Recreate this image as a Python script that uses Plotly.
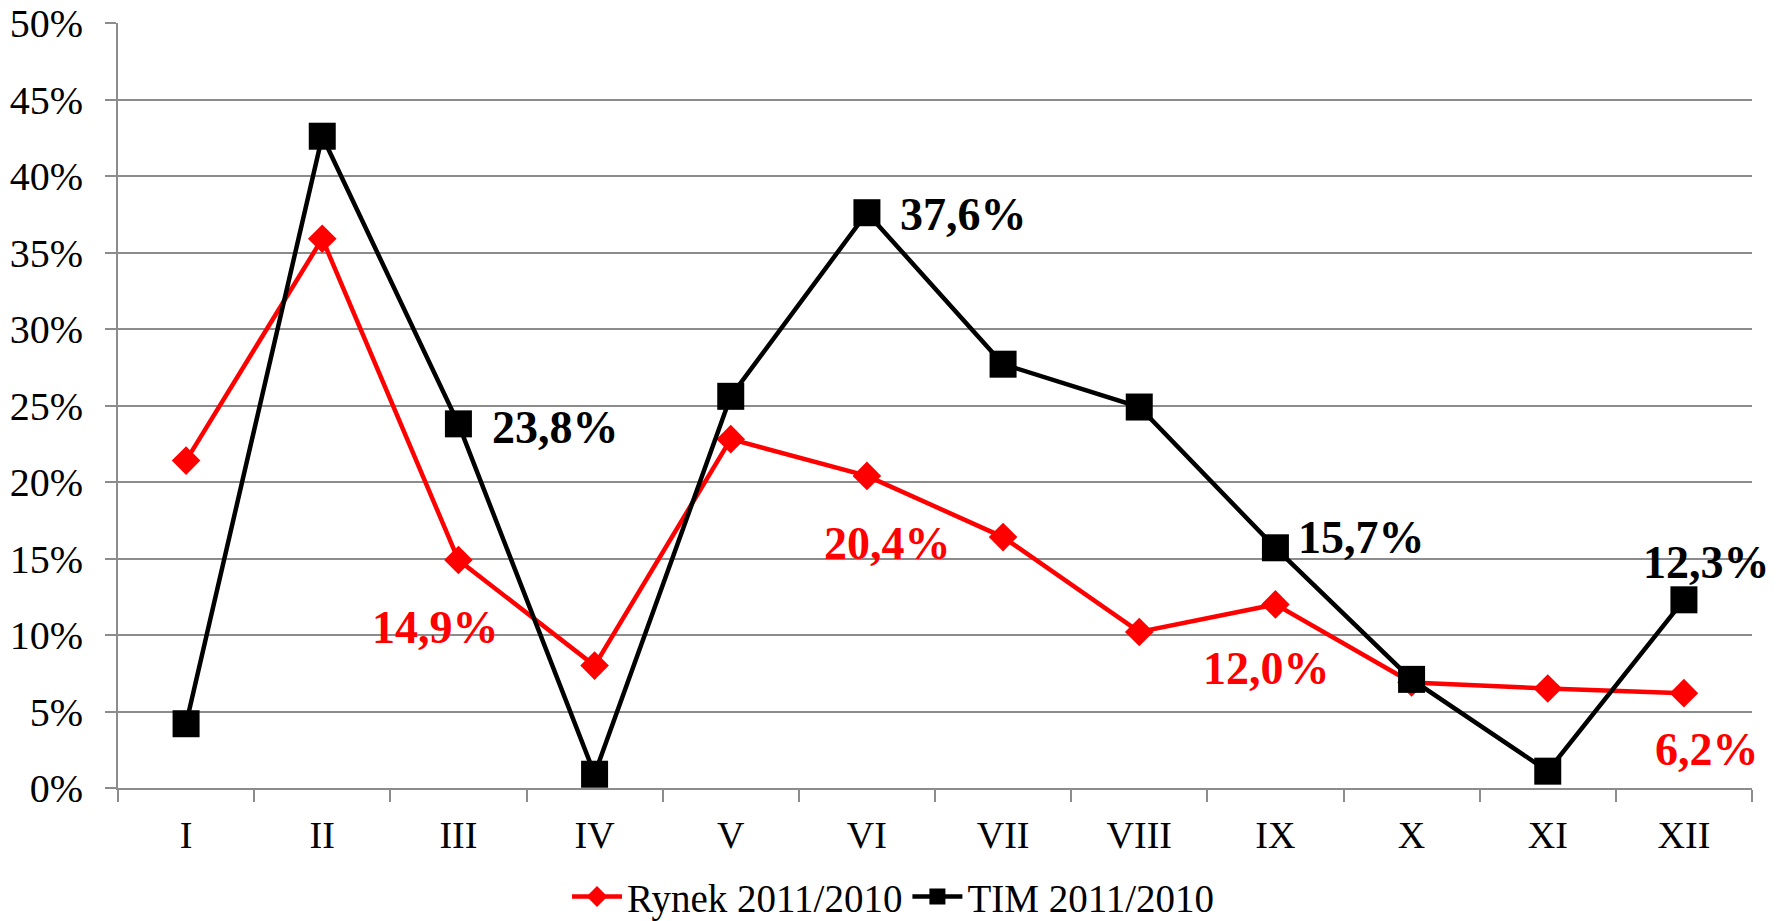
import plotly.graph_objects as go

months = ["I", "II", "III", "IV", "V", "VI", "VII", "VIII", "IX", "X", "XI", "XII"]
rynek = [0.214, 0.359, 0.149, 0.080, 0.228, 0.204, 0.164, 0.102, 0.120, 0.069, 0.065, 0.062]
tim = [0.042, 0.426, 0.238, 0.009, 0.256, 0.376, 0.277, 0.249, 0.157, 0.071, 0.011, 0.123]

# labelled points: month index -> text
rynek_labels = {2: "14,9%", 5: "20,4%", 8: "12,0%", 11: "6,2%"}
tim_labels = {2: "23,8%", 5: "37,6%", 8: "15,7%", 11: "12,3%"}

# label offsets in pixels (style only)
rynek_off = {2: (-23, -67), 5: (21, -68), 8: (-9, -64), 11: (23, -56)}
tim_off = {2: ("left", 32, -4), 5: ("left", 31, -2), 8: ("left", 21, 10), 11: ("center", 23, 37)}

FONT = "Liberation Serif"
GRID = "#8c8c8c"

fig = go.Figure()
fig.add_trace(go.Scatter(
    x=months, y=rynek, name="Rynek 2011/2010", mode="lines+markers",
    line=dict(color="#ff0000", width=4.5),
    marker=dict(symbol="diamond", size=22, color="#ff0000"),
))
fig.add_trace(go.Scatter(
    x=months, y=tim, name="TIM 2011/2010", mode="lines+markers",
    line=dict(color="#000000", width=4.5),
    marker=dict(symbol="square", size=27, color="#000000"),
))

annotations = []
for i, txt in rynek_labels.items():
    dx, dy = rynek_off[i]
    annotations.append(dict(
        x=months[i], y=rynek[i], xref="x", yref="y", text=txt, showarrow=False,
        xanchor="center", yanchor="middle", xshift=dx, yshift=dy,
        font=dict(family=FONT, size=46, color="#ff0000", weight="bold"),
    ))
for i, txt in tim_labels.items():
    anc, dx, dy = tim_off[i]
    annotations.append(dict(
        x=months[i], y=tim[i], xref="x", yref="y", text=txt, showarrow=False,
        xanchor=anc, yanchor="middle", xshift=dx, yshift=dy,
        font=dict(family=FONT, size=46, color="#000000", weight="bold"),
    ))

fig.update_layout(
    width=1787, height=921,
    margin=dict(l=118, r=35, t=23, b=133, autoexpand=False),
    plot_bgcolor="white", paper_bgcolor="white",
    font=dict(family=FONT, size=40, color="#000000"),
    showlegend=True,
    legend=dict(
        orientation="h", xref="container", yref="paper",
        x=0.5, xanchor="center", y=-0.142, yanchor="middle",
        font=dict(family=FONT, size=39), itemwidth=50,
    ),
    annotations=annotations,
)
fig.update_xaxes(
    type="category", range=[-0.5, len(months) - 0.5],
    tickson="boundaries", ticks="outside", ticklen=12,
    tickcolor=GRID, tickwidth=2, showline=True, linecolor=GRID, linewidth=2,
    showgrid=False, tickfont=dict(family=FONT, size=38), automargin=False,
    ticklabelstandoff=12,
)
fig.update_yaxes(
    range=[0, 0.5], dtick=0.05, tickformat=".0%", ticks="outside", ticklen=11,
    tickcolor=GRID, tickwidth=2, showline=True, linecolor=GRID, linewidth=2,
    showgrid=True, gridcolor=GRID, gridwidth=2, zeroline=False,
    tickfont=dict(family=FONT, size=40), automargin=False,
    ticklabelstandoff=14, ticklabeloverflow="allow",
)

# remove the default page body margin so the figure fills the window exactly
fig.write_html(
    "out.html",
    config={"displayModeBar": False},
    post_script="document.body.style.margin='0';document.body.style.overflow='hidden';",
)
